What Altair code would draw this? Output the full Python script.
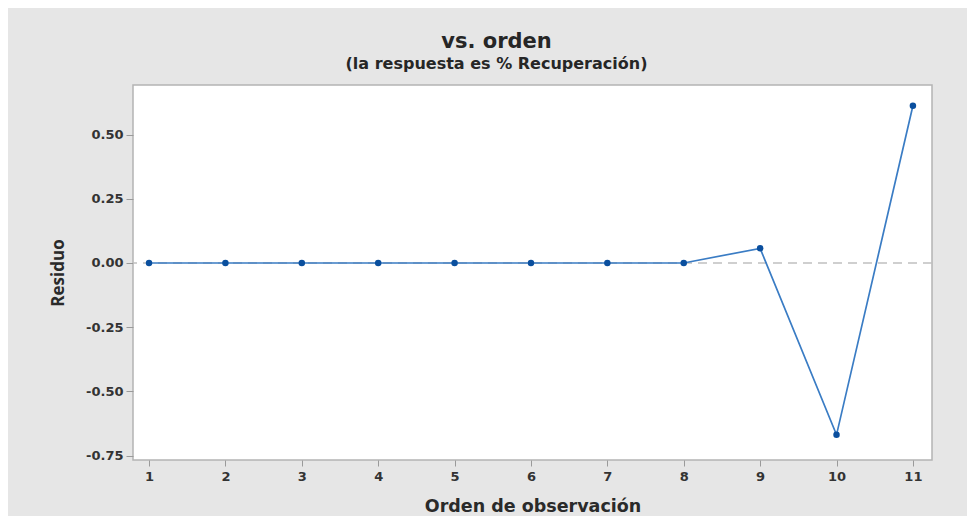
import altair as alt
import pandas as pd

orden = [1, 2, 3, 4, 5, 6, 7, 8, 9, 10, 11]
residuo = [0.0, 0.0, 0.0, 0.0, 0.0, 0.0, 0.0, 0.0, 0.057, -0.669, 0.612]
x_ticks = [1, 2, 3, 4, 5, 6, 7, 8, 9, 10, 11]
y_ticks = [-0.75, -0.50, -0.25, 0.0, 0.25, 0.50]

df = pd.DataFrame({"orden": orden, "residuo": residuo})

WIDE = "DejaVu Sans"
FONT = "Open Sans"
YDOM = [-0.767, 0.693]

x = alt.X("orden:Q",
          scale=alt.Scale(domain=[0.79, 11.25], nice=False, zero=False),
          axis=alt.Axis(values=x_ticks, title="Orden de observación", format="d",
                        grid=False, domain=False, tickColor="#9a9a9a", tickSize=6,
                        labelFont=WIDE, labelFontSize=13, labelFontWeight="bold", labelColor="#333333",
                        labelPadding=4, titleFont=WIDE, titleFontSize=17.5, titleFontWeight="bold",
                        titleColor="#2a2a2a", titlePadding=14))
y = alt.Y("residuo:Q",
          scale=alt.Scale(domain=YDOM, nice=False, zero=False),
          axis=alt.Axis(values=y_ticks, title="Residuo",
                        labelExpr="replace(format(datum.value, '.2f'), '\u2212', '-')",
                        grid=False, domain=False, tickColor="#9a9a9a", tickSize=7,
                        labelFont=WIDE, labelFontSize=13, labelFontWeight="bold", labelColor="#333333",
                        labelPadding=3, titleFont=FONT, titleFontSize=17, titleFontWeight=700,
                        titleColor="#2a2a2a", titlePadding=18))

ref = alt.Chart(pd.DataFrame({"y": [0.0]})).mark_rule(
    color="#c0c0c0", strokeDash=[9, 6], strokeWidth=1.5
).encode(y=alt.Y("y:Q", scale=alt.Scale(domain=YDOM, nice=False, zero=False)))

line = alt.Chart(df).mark_line(color="#3a7cc4", strokeWidth=1.7).encode(x=x, y=y)
pts = alt.Chart(df).mark_point(filled=True, color="#0a4f9e", size=42, opacity=1).encode(x=x, y=y)

chart = alt.layer(ref, line, pts).properties(
    width=799, height=375,
    autosize=alt.AutoSizeParams(type="none"),
    padding={"left": 125, "top": 77, "right": 35, "bottom": 56},
    background="#e6e6e6",
    title=alt.TitleParams(
        "vs. orden",
        subtitle="(la respuesta es % Recuperación)",
        anchor="middle", frame="group", dx=-36, offset=13,
        font=WIDE, fontSize=21, fontWeight="bold", color="#262626",
        subtitleFont=WIDE, subtitleFontSize=16, subtitleFontWeight="bold",
        subtitleColor="#262626", subtitlePadding=4,
    ),
).configure_view(stroke="#b4b4b4", strokeWidth=1.5, fill="white")

chart.save("out.html", embed_options={"renderer": "svg", "actions": False})
